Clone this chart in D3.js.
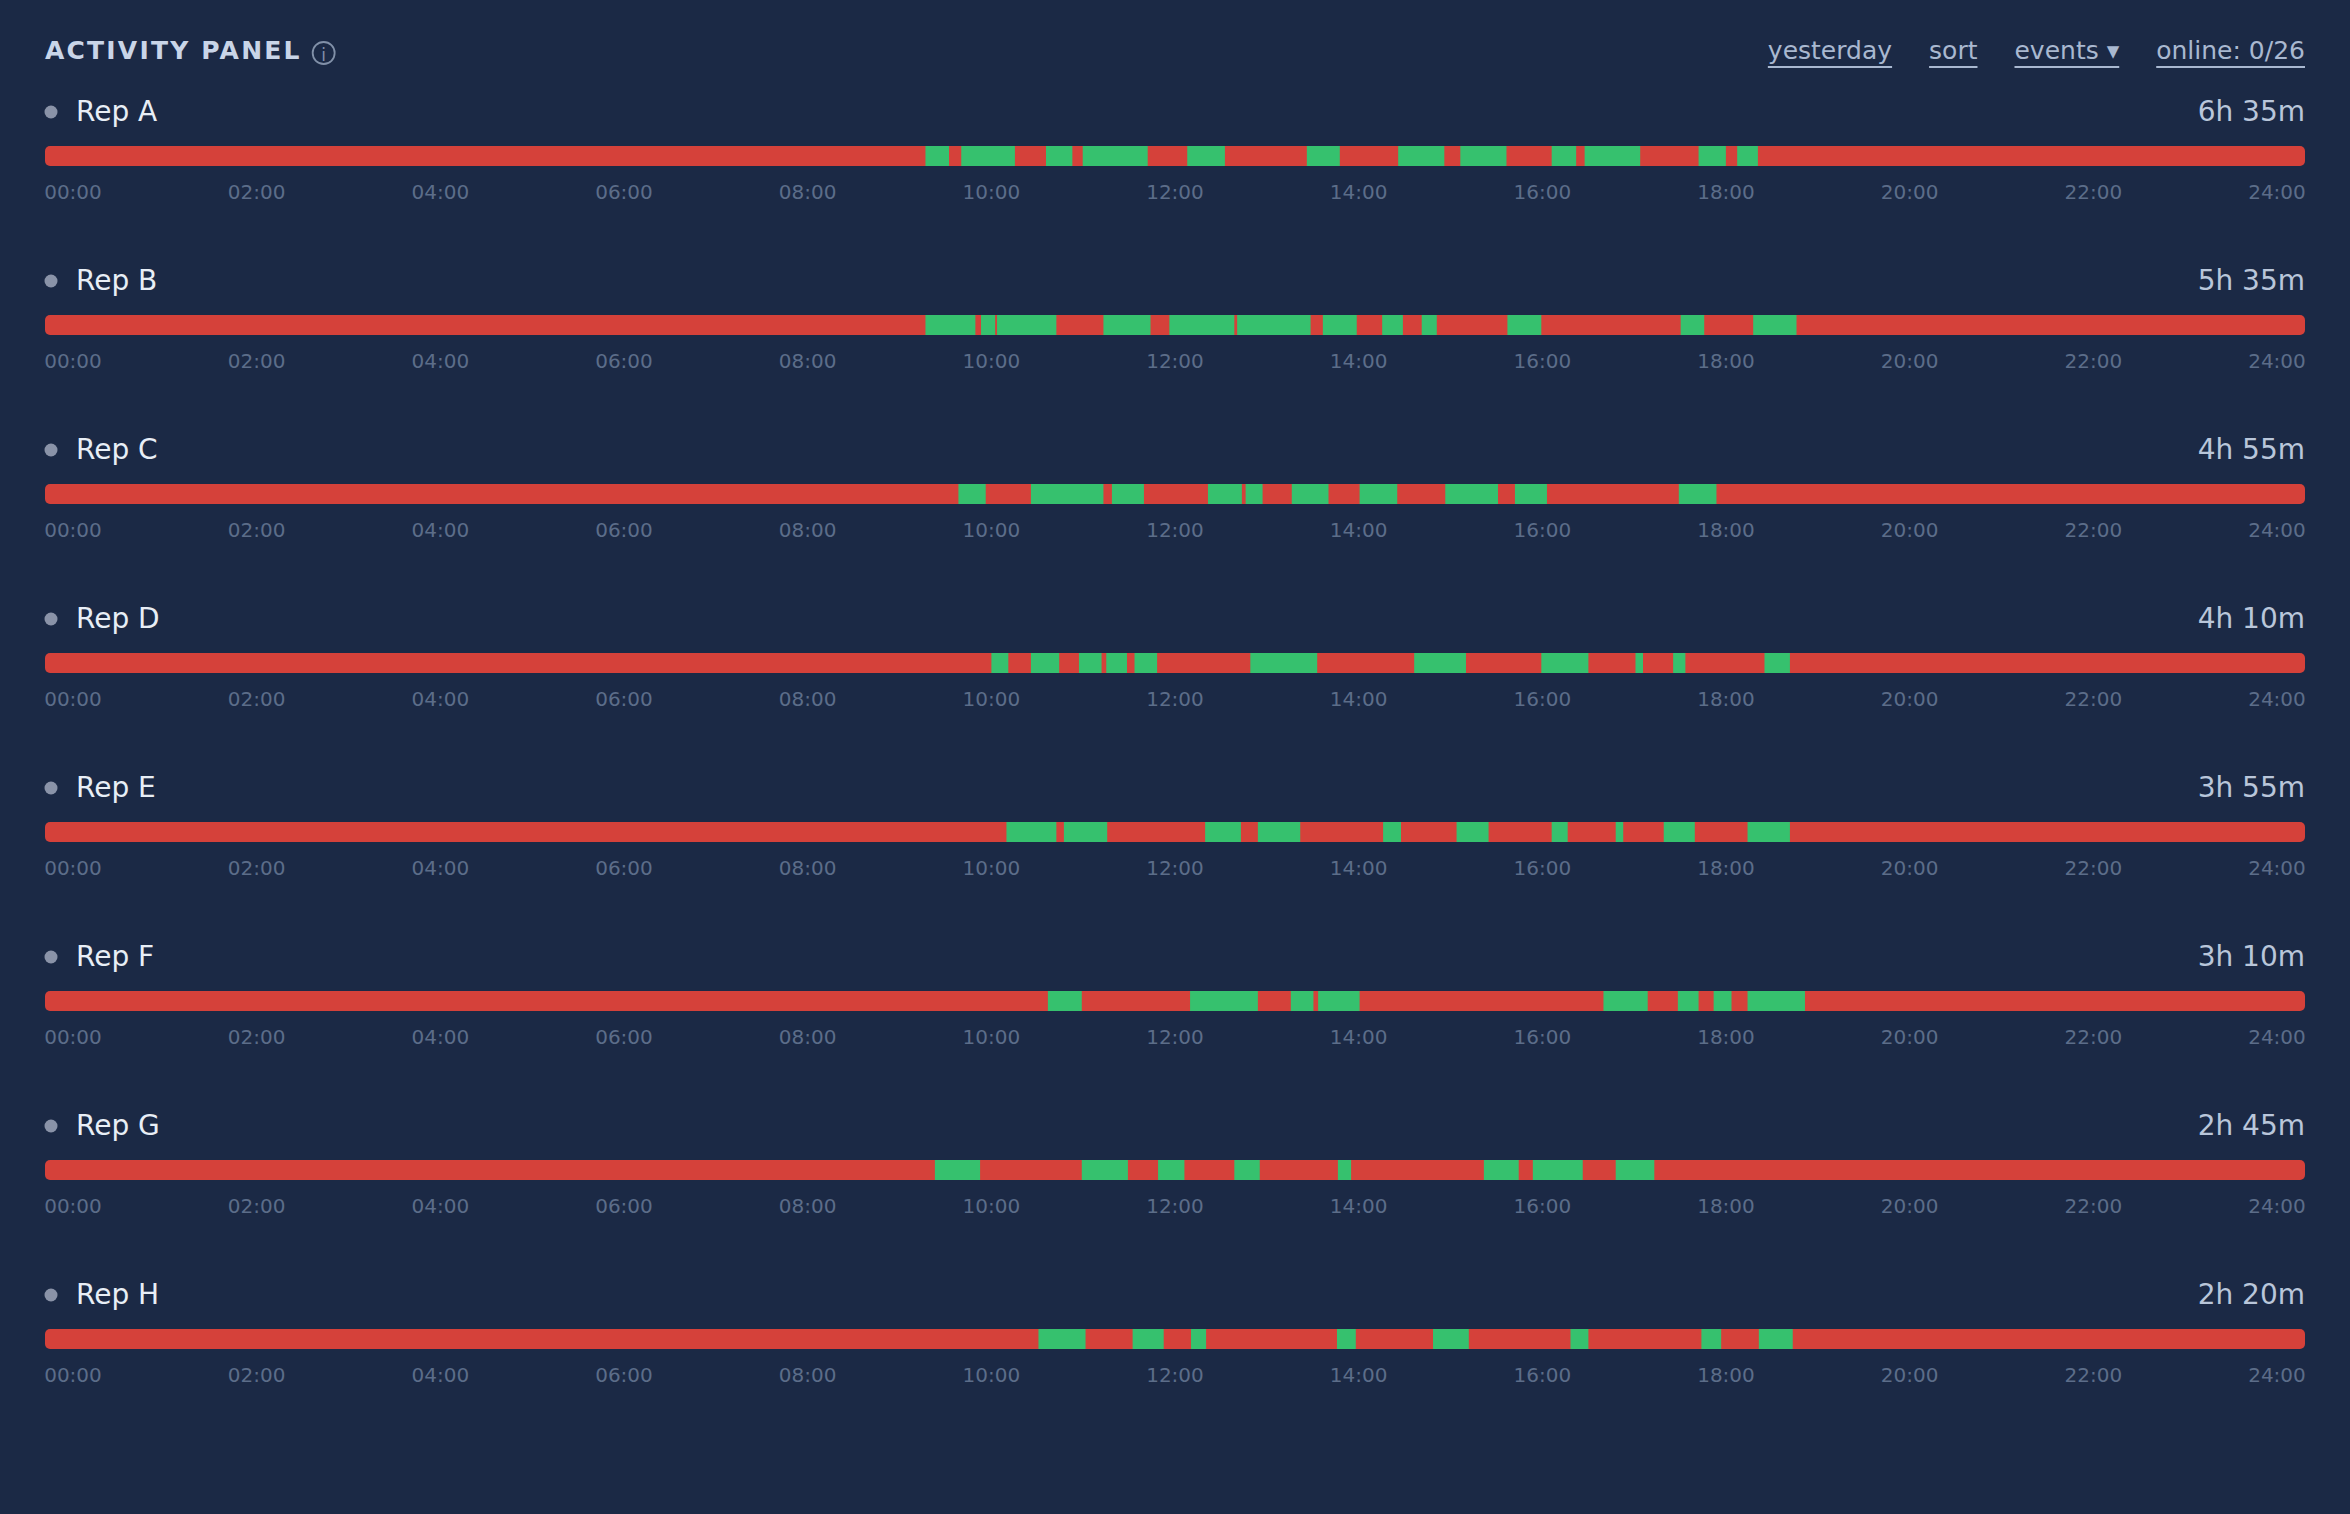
<!DOCTYPE html>
<html>
<head>
<meta charset="utf-8">
<script src="https://cdn.jsdelivr.net/npm/d3@7"></script>
<style>
  html, body { margin: 0; background: #1b2945; }
  svg { display: block; font-family: "DejaVu Sans", sans-serif; }
</style>
</head>
<body>
<svg id="chart" width="2350" height="1514"></svg>
<script>
var reps = ['Rep A', 'Rep B', 'Rep C', 'Rep D', 'Rep E', 'Rep F', 'Rep G', 'Rep H'];
var durations = ['6h 35m', '5h 35m', '4h 55m', '4h 10m', '3h 55m', '3h 10m', '2h 45m', '2h 20m'];
var tickLabels = ['00:00', '02:00', '04:00', '06:00', '08:00', '10:00', '12:00', '14:00', '16:00', '18:00', '20:00', '22:00', '24:00'];
var links = ['yesterday', 'sort', 'events \u25BE', 'online: 0/26'];

// green (active) segments in hours, [start, end]
var activeA = [[9.35, 9.6], [9.73, 10.3], [10.63, 10.91], [11.02, 11.71], [12.13, 12.53], [13.4, 13.75], [14.37, 14.86], [15.03, 15.52], [16.0, 16.26], [16.35, 16.94], [17.56, 17.85], [17.97, 18.19]];
var activeB = [[9.35, 9.88], [9.94, 10.09], [10.11, 10.74], [11.24, 11.74], [11.94, 12.63], [12.66, 13.44], [13.57, 13.93], [14.2, 14.42], [14.62, 14.78], [15.53, 15.89], [17.37, 17.62], [18.14, 18.6]];
var activeC = [[9.7, 9.99], [10.47, 11.24], [11.33, 11.67], [12.35, 12.71], [12.75, 12.93], [13.24, 13.63], [13.96, 14.36], [14.87, 15.43], [15.61, 15.95], [17.35, 17.75]];
var activeD = [[10.05, 10.23], [10.47, 10.77], [10.98, 11.22], [11.27, 11.49], [11.57, 11.81], [12.8, 13.51], [14.54, 15.09], [15.89, 16.39], [16.89, 16.97], [17.29, 17.42], [18.26, 18.53]];
var activeE = [[10.21, 10.74], [10.82, 11.28], [12.32, 12.7], [12.88, 13.33], [14.21, 14.4], [14.99, 15.33], [16.0, 16.17], [16.68, 16.76], [17.19, 17.52], [18.08, 18.53]];
var activeF = [[10.65, 11.01], [12.16, 12.88], [13.23, 13.47], [13.52, 13.96], [16.55, 17.02], [17.34, 17.56], [17.72, 17.91], [18.08, 18.69]];
var activeG = [[9.45, 9.93], [11.01, 11.5], [11.82, 12.1], [12.63, 12.9], [13.73, 13.87], [15.28, 15.65], [15.8, 16.33], [16.68, 17.09]];
var activeH = [[10.55, 11.05], [11.55, 11.88], [12.17, 12.33], [13.72, 13.92], [14.74, 15.12], [16.2, 16.39], [17.59, 17.8], [18.2, 18.56]];
var active = [activeA, activeB, activeC, activeD, activeE, activeF, activeG, activeH];

var svg = d3.select('#chart');
var left = 45, right = 2305, pitch = 169;

var x = d3.scaleLinear().domain([0, 24]).range([left, right]);
var tickX = d3.scalePoint().domain(tickLabels).range([left + 28, right - 28]);

// header
var title = svg.append('text').attr('x', left).attr('y', 59)
  .attr('fill', '#c9d5e8').attr('font-size', 25).attr('font-weight', 'bold')
  .attr('letter-spacing', 2.2).text('ACTIVITY PANEL');
var tw = title.node().getComputedTextLength();
var ix = left + tw + 22;
svg.append('circle').attr('cx', ix).attr('cy', 53).attr('r', 11)
  .attr('fill', 'none').attr('stroke', '#8190a8').attr('stroke-width', 1.8);
svg.append('text').attr('x', ix).attr('y', 61).attr('text-anchor', 'middle')
  .attr('fill', '#8190a8').attr('font-size', 17).text('i');

// links laid out right to left
var cursor = right;
links.slice().reverse().forEach(function(l) {
  var t = svg.append('text').attr('y', 59)
    .attr('fill', '#a9b8d0').attr('font-size', 25).text(l);
  var w = t.node().getComputedTextLength();
  t.attr('x', cursor - w);
  svg.append('rect').attr('x', cursor - w).attr('y', 66).attr('width', w).attr('height', 2).attr('fill', '#a9b8d0');
  cursor -= w + 37;
});

var rows = svg.selectAll('g.row').data(reps).enter().append('g')
  .attr('class', 'row')
  .attr('transform', function(d, i) { return 'translate(0,' + (i * pitch) + ')'; });

rows.append('circle').attr('cx', 51).attr('cy', 112).attr('r', 6.5).attr('fill', '#8a93a8');
rows.append('text').attr('x', 76).attr('y', 121).attr('fill', '#e8eef6').attr('font-size', 28)
  .text(function(d) { return d; });
rows.append('text').attr('x', right).attr('y', 121).attr('text-anchor', 'end')
  .attr('fill', '#b9c6da').attr('font-size', 28)
  .text(function(d, i) { return durations[i]; });

rows.append('rect').attr('x', x(0)).attr('y', 146).attr('width', x(24) - x(0)).attr('height', 20)
  .attr('rx', 5).attr('fill', '#d5413a');

rows.each(function(d, i) {
  d3.select(this).selectAll('rect.seg').data(active[i]).enter().append('rect')
    .attr('class', 'seg')
    .attr('x', function(s) { return x(s[0]); })
    .attr('width', function(s) { return x(s[1]) - x(s[0]); })
    .attr('y', 146).attr('height', 20).attr('fill', '#36c16e');
});

rows.each(function() {
  d3.select(this).selectAll('text.tick').data(tickLabels).enter().append('text')
    .attr('class', 'tick')
    .attr('x', function(t) { return tickX(t); })
    .attr('y', 199).attr('text-anchor', 'middle')
    .attr('fill', '#5c6d89').attr('font-size', 20)
    .text(function(t) { return t; });
});
</script>
</body>
</html>
